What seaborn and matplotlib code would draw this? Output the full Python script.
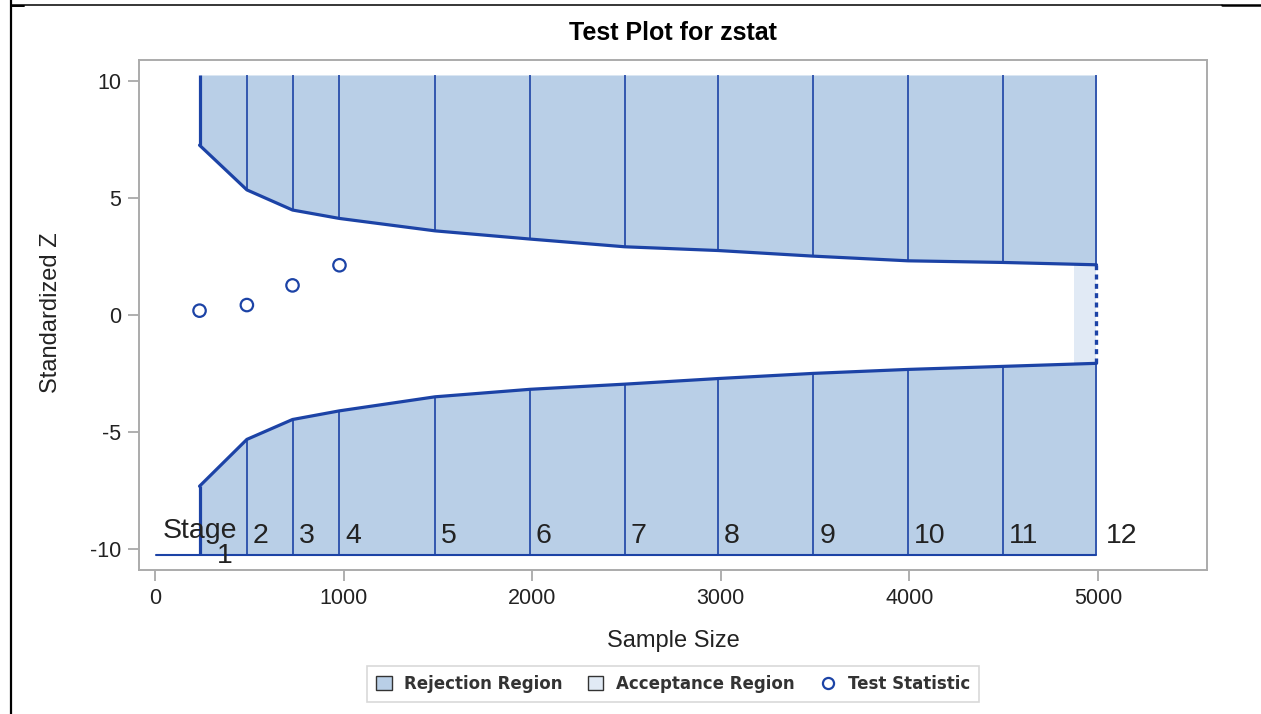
import matplotlib
matplotlib.use("Agg")
import matplotlib.pyplot as plt
from matplotlib.lines import Line2D
from matplotlib.patches import Patch
import pandas as pd
import seaborn as sns

# ---------------- data ----------------
stages = [1, 2, 3, 4, 5, 6, 7, 8, 9, 10, 11, 12]
sample_size = [236, 487, 729, 978, 1485, 1988, 2490, 2985, 3490, 3993, 4497, 4992]
upper_bound = [7.25, 5.34, 4.48, 4.12, 3.59, 3.24, 2.91, 2.75, 2.51, 2.31, 2.24, 2.14]
lower_bound = [-7.32, -5.32, -4.47, -4.10, -3.50, -3.18, -2.96, -2.72, -2.50, -2.33, -2.20, -2.07]
test_stat_n = [236, 487, 729, 978]
test_stat_z = [0.18, 0.42, 1.26, 2.12]
region_top = 10.25
region_bottom = -10.28
accept_start = 4873
stage_axis_start = 5
x_ticks = [0, 1000, 2000, 3000, 4000, 5000]
y_ticks = [-10, -5, 0, 5, 10]

# ---------------- style ----------------
sns.set_theme(style="white")
plt.rcParams["font.family"] = ["Liberation Sans", "DejaVu Sans"]

REJ = "#B9CFE7"
ACC = "#E1EAF5"
LINE = "#1C43A6"
FRAME = "#ABABAB"

W, H = 1261, 714
fig = plt.figure(figsize=(W / 100, H / 100), dpi=100)
fig.patch.set_facecolor("white")
ax = fig.add_axes([139 / W, (H - 570) / H, (1207 - 139) / W, (570 - 60) / H])

bounds = pd.DataFrame({"n": sample_size, "upper": upper_bound, "lower": lower_bound, "stage": stages})
stats = pd.DataFrame({"n": test_stat_n, "z": test_stat_z})

# rejection regions
ax.fill_between(bounds["n"], bounds["upper"], region_top, color=REJ, lw=0, zorder=1)
ax.fill_between(bounds["n"], bounds["lower"], region_bottom, color=REJ, lw=0, zorder=1)
# acceptance region
ax.fill_between([accept_start, sample_size[-1]], lower_bound[-1], upper_bound[-1],
                color=ACC, lw=0, zorder=1)

# stage vertical lines
ax.vlines(sample_size[1:], upper_bound[1:], region_top, color=LINE, lw=1.2, zorder=2)
ax.vlines(sample_size[1:], region_bottom, lower_bound[1:], color=LINE, lw=1.2, zorder=2)
ax.vlines(sample_size[0], upper_bound[0], region_top, color=LINE, lw=2.3, zorder=3)
ax.vlines(sample_size[0], region_bottom, lower_bound[0], color=LINE, lw=2.3, zorder=3)

# boundaries
sns.lineplot(data=bounds, x="n", y="upper", color=LINE, lw=2.3, ax=ax, zorder=3)
sns.lineplot(data=bounds, x="n", y="lower", color=LINE, lw=2.3, ax=ax, zorder=3)

# final-stage acceptance (dotted)
ax.plot([sample_size[-1], sample_size[-1]], [lower_bound[-1], upper_bound[-1]],
        color=LINE, lw=2.4, ls=(0, (1.5, 1.3)), zorder=3)

# stage axis line
ax.plot([stage_axis_start, sample_size[-1]], [region_bottom, region_bottom],
        color=LINE, lw=1.5, zorder=3)

# test statistic
sns.scatterplot(data=stats, x="n", y="z", marker="o", s=80, facecolor="none",
                edgecolor=LINE, linewidth=1.6, ax=ax, zorder=4)

# stage labels
lab_y = -9.45
ax.text(42, -9.23, "Stage", fontsize=20.5, color="#222222", ha="left", va="center", zorder=5)
ax.annotate(str(stages[0]), xy=(sample_size[0], -10.31), xytext=(25, 0),
            textcoords="offset pixels", fontsize=20.5, color="#222222",
            ha="center", va="center", zorder=5)
for st, n in zip(stages[1:], sample_size[1:]):
    ax.annotate(str(st), xy=(n, lab_y), xytext=(6 if st < 12 else 9, 0),
                textcoords="offset pixels", fontsize=20.5, color="#222222",
                ha="left", va="center", zorder=5)

# axes
ax.set_xlim(-85, 5578)
ax.set_ylim(-10.9, 10.89)
ax.set_xticks(x_ticks)
ax.set_yticks(y_ticks)
ax.set_xticklabels([str(v) for v in x_ticks])
ax.set_yticklabels([str(v) for v in y_ticks])
ax.set_xlabel("")
ax.set_ylabel("")
for s in ax.spines.values():
    s.set_color(FRAME)
    s.set_linewidth(1.4)
    s.set_visible(True)
ax.tick_params(axis="both", which="major", direction="out", length=8, width=1.1,
               color="#9A9A9A", labelsize=15.5, labelcolor="#222222", pad=5,
               bottom=True, left=True)
ax.grid(False)

# titles / labels
fig.text(673 / W, 1 - 33 / H, "Test Plot for zstat", ha="center", va="center",
         fontsize=18, fontweight="bold", color="black")
fig.text(673 / W, 1 - 641 / H, "Sample Size", ha="center", va="center",
         fontsize=17, color="#222222")
fig.text(51 / W, 1 - 313 / H, "Standardized Z", ha="center", va="center",
         fontsize=17, rotation=90, color="#222222")

# legend
handles = [
    Patch(facecolor=REJ, edgecolor="#333333", lw=1.0, label="Rejection Region"),
    Patch(facecolor=ACC, edgecolor="#333333", lw=1.0, label="Acceptance Region"),
    Line2D([], [], ls="none", marker="o", markersize=8, markerfacecolor="none",
           markeredgecolor=LINE, markeredgewidth=1.6, label="Test Statistic"),
]
leg = fig.legend(handles=handles, loc="center", bbox_to_anchor=(673 / W, 1 - 684 / H),
                 ncol=3, frameon=True, fancybox=False, handlelength=0.95, handleheight=0.95,
                 handletextpad=0.75, columnspacing=1.5, borderpad=0.55,
                 prop={"family": "DejaVu Sans", "size": 12, "weight": "bold"})
leg.get_frame().set_edgecolor("#CFCFCF")
leg.get_frame().set_linewidth(1.2)
for t in leg.get_texts():
    t.set_color("#333333")

# outer border lines (table frame)
fig.add_artist(Line2D([11 / W, 11 / W], [0, 1], color="black", lw=1.6, transform=fig.transFigure))
fig.add_artist(Line2D([11 / W, 1222 / W], [1 - 4.5 / H, 1 - 4.5 / H], color="black", lw=1.1,
                      transform=fig.transFigure))
fig.add_artist(Line2D([1222 / W, 1], [1 - 5 / H, 1 - 5 / H], color="black", lw=1.8,
                      transform=fig.transFigure))
fig.add_artist(Line2D([11 / W, 24 / W], [1 - 5.5 / H, 1 - 5.5 / H], color="black", lw=1.4,
                      transform=fig.transFigure))

fig.savefig("out.png", dpi=100, facecolor="white")
